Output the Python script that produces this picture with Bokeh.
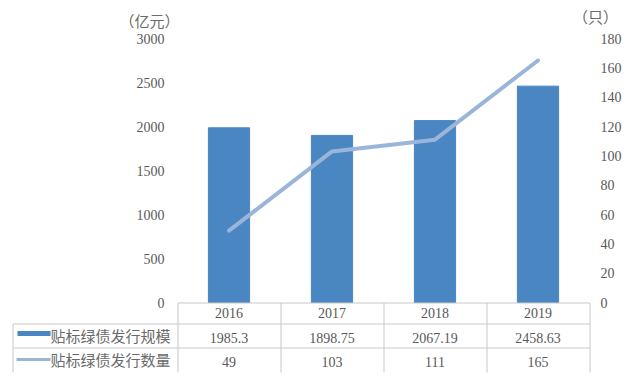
from bokeh.plotting import figure
from bokeh.models import Range1d
from bokeh.core.properties import value
from bokeh.embed import file_html
from bokeh.resources import INLINE

# ---- data ----
years = ["2016", "2017", "2018", "2019"]
issue_scale = [1985.3, 1898.75, 2067.19, 2458.63]
issue_count = [49, 103, 111, 165]
scale_labels = ["1985.3", "1898.75", "2067.19", "2458.63"]
count_labels = ["49", "103", "111", "165"]
left_ticks = [0, 500, 1000, 1500, 2000, 2500, 3000]
right_ticks = [0, 20, 40, 60, 80, 100, 120, 140, 160, 180]
series_names = ["贴标绿债发行规模", "贴标绿债发行数量"]
left_unit = "（亿元）"
right_unit = "（只）"

# ---- style / layout constants ----
BAR = "#4A86C2"
LINE = "#9AB5DA"
TXT = "#595959"
CJK_TXT = "#6A6A6A"
GRID = "#C8C8C8"
SERIF = "Liberation Serif"
CJK = "Noto Sans CJK SC"

W, H = 626, 388
PLOT_L, COL = 177, 103          # left edge of the category area, column width (px)
Y0, YTOP = 302, 38              # pixel rows of value 0 and of the top tick
LMAX, RMAX = left_ticks[-1], right_ticks[-1]
n = len(years)
idx = list(range(n))

lpx = (Y0 - YTOP) / LMAX
rpx = (Y0 - YTOP) / RMAX

p = figure(width=W, height=H,
           x_range=Range1d(-0.5 - PLOT_L / COL, -0.5 + (W - PLOT_L) / COL),
           y_range=Range1d(-(H - Y0) / lpx, Y0 / lpx),
           output_backend="svg", toolbar_location=None,
           min_border_left=0, min_border_right=0, min_border_top=0, min_border_bottom=0)
p.extra_y_ranges = {"count": Range1d(-(H - Y0) / rpx, Y0 / rpx),
                    "px": Range1d(H, 0)}
p.extra_x_ranges = {"px": Range1d(0, W)}
p.axis.visible = False
p.grid.visible = False
p.outline_line_color = None
p.background_fill_color = "white"
p.border_fill_color = "white"

# bars and line
p.vbar(x=idx, top=issue_scale, bottom=0, width=0.4, color=BAR)
p.line(x=idx, y=issue_count, y_range_name="count", line_width=4, color=LINE, line_cap="round")

# tick labels (value axes)
tick_style = dict(text_font=value(SERIF), text_font_size="14px", text_color=TXT, text_baseline="middle")
p.text(x=[PLOT_L - 13] * len(left_ticks), y=left_ticks, text=[str(v) for v in left_ticks],
       x_range_name="px", text_align="right", **tick_style)
p.text(x=[PLOT_L + n * COL + 11] * len(right_ticks), y=right_ticks, text=[str(v) for v in right_ticks],
       x_range_name="px", y_range_name="count", text_align="left", **tick_style)

# unit captions
unit_style = dict(text_font=value(CJK), text_font_size="15px", text_color=CJK_TXT,
                  text_align="center", text_baseline="middle")
p.text(x=[149], y=[20], text=[left_unit], x_range_name="px", y_range_name="px", **unit_style)
p.text(x=[595], y=[16], text=[right_unit], x_range_name="px", y_range_name="px", **unit_style)

# ---- data table ----
T_TOP, R1, R2, T_BOT, T_LEFT = 302.5, 323.5, 347.5, 372, 12.5
right_edge = PLOT_L + n * COL + 0.5
p.segment(x0=[PLOT_L + 0.5, T_LEFT, T_LEFT], x1=[right_edge] * 3,
          y0=[T_TOP, R1, R2], y1=[T_TOP, R1, R2],
          x_range_name="px", y_range_name="px", line_color=GRID, line_width=1)
vx = [PLOT_L + COL * k + 0.5 for k in range(n + 1)]
p.segment(x0=vx, x1=vx, y0=[T_TOP] * len(vx), y1=[T_BOT] * len(vx),
          x_range_name="px", y_range_name="px", line_color=GRID, line_width=1)
p.segment(x0=[T_LEFT], x1=[T_LEFT], y0=[R1], y1=[T_BOT],
          x_range_name="px", y_range_name="px", line_color=GRID, line_width=1)

cell_style = dict(text_font=value(SERIF), text_font_size="14px", text_color=TXT,
                  text_align="center", text_baseline="middle", y_range_name="px")
p.text(x=idx, y=[312.5] * n, text=years, **cell_style)
p.text(x=idx, y=[337.5] * n, text=scale_labels, **cell_style)
p.text(x=idx, y=[361.5] * n, text=count_labels, **cell_style)

# row headers with legend swatches
p.segment(x0=[17], x1=[50], y0=[333], y1=[333], x_range_name="px", y_range_name="px",
          line_color=BAR, line_width=5)
p.segment(x0=[16], x1=[50], y0=[359], y1=[359], x_range_name="px", y_range_name="px",
          line_color=LINE, line_width=3)
p.text(x=[50, 50], y=[335, 359], text=series_names, x_range_name="px", y_range_name="px",
       text_font=value(CJK), text_font_size="15px", text_color=CJK_TXT,
       text_align="left", text_baseline="middle")

open("out.html", "w").write(file_html(p, INLINE))
